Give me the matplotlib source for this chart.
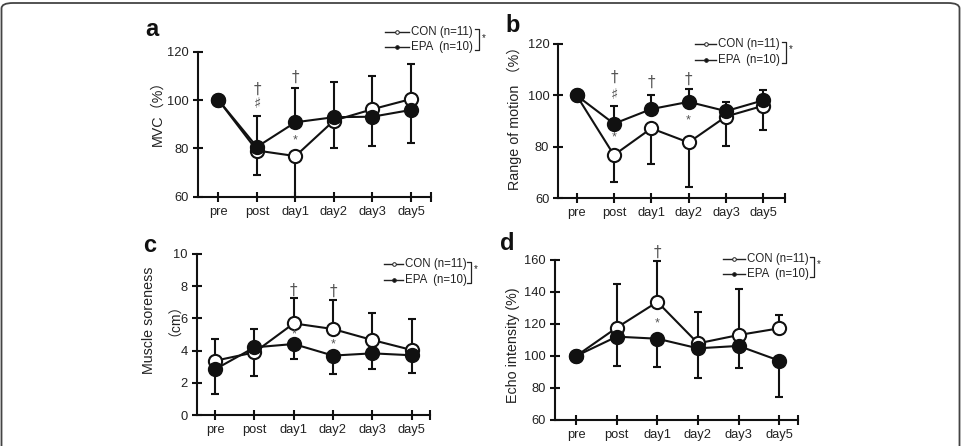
import matplotlib
matplotlib.use('Agg')
import matplotlib.pyplot as plt
import numpy as np
from matplotlib.patches import FancyBboxPatch
from matplotlib.lines import Line2D

W, H = 963, 446
FONT = ['Liberation Sans', 'DejaVu Sans', 'Noto Sans CJK SC']
plt.rcParams['font.family'] = FONT

days = ['pre', 'post', 'day1', 'day2', 'day3', 'day5']

# ---- panel a: MVC (%) ----
mvc_con = [100, 79.1, 76.8, 91.5, 96.2, 100.4]
mvc_con_lo = [0, 10.0, 16.8, 11.5, 0, 0]
mvc_con_hi = [0, 0, 0, 0, 13.7, 14.4]
mvc_epa = [100, 80.6, 90.8, 92.9, 93.1, 95.9]
mvc_epa_lo = [0, 0, 0, 0, 12.0, 13.5]
mvc_epa_hi = [0, 12.8, 14.0, 14.5, 0, 0]
mvc_marks = [(1, 104.6, '†'), (1, 98.6, '♯'), (2, 109.3, '†'), (2, 83.4, '*')]

# ---- panel b: Range of motion (%) ----
rom_con = [100, 76.8, 87.2, 81.7, 91.8, 96.0]
rom_con_lo = [0, 10.6, 13.8, 17.5, 11.4, 9.6]
rom_con_hi = [0, 0, 0, 0, 0, 0]
rom_epa = [100, 89.0, 94.7, 97.5, 93.9, 98.1]
rom_epa_lo = [0, 0, 0, 0, 0, 0]
rom_epa_hi = [0, 7.0, 5.4, 5.1, 3.4, 4.1]
rom_marks = [(1, 107.1, '†'), (1, 100.3, '♯'), (1, 83.7, '*'),
             (2, 105.2, '†'), (3, 106.1, '†'), (3, 90.2, '*')]

# ---- panel c: Muscle soreness (cm) ----
sor_con = [3.37, 3.89, 5.69, 5.34, 4.66, 4.04]
sor_con_lo = [0, 1.47, 0, 0, 0, 0]
sor_con_hi = [1.37, 0, 1.56, 1.80, 1.66, 1.92]
sor_epa = [2.84, 4.20, 4.41, 3.69, 3.83, 3.71]
sor_epa_lo = [1.54, 0, 0.95, 1.16, 0.97, 1.08]
sor_epa_hi = [0, 1.14, 0, 0, 0, 0]
sor_marks = [(2, 7.72, '†'), (2, 5.01, '*'), (3, 7.66, '†'), (3, 4.41, '*')]

# ---- panel d: Echo intensity (%) ----
echo_con = [100, 117.7, 133.8, 107.9, 113.1, 117.3]
echo_con_lo = [0, 0, 0, 0, 0, 0]
echo_con_hi = [0, 27.5, 25.8, 19.4, 28.6, 8.3]
echo_epa = [100, 112.1, 110.8, 104.8, 106.3, 97.1]
echo_epa_lo = [0, 18.6, 17.7, 18.3, 14.0, 22.7]
echo_epa_hi = [0, 0, 0, 0, 0, 0]
echo_marks = [(2, 165.0, '†'), (2, 120.4, '*')]

legend_con = 'CON (n=11)'
legend_epa = 'EPA  (n=10)'

fig = plt.figure(figsize=(W / 100, H / 100), dpi=100)


def px_axes(l, r, t, b):
    return fig.add_axes([l / W, 1 - b / H, (r - l) / W, (b - t) / H])


def fx(x):
    return x / W


def fy(y):
    return 1 - y / H


panels = [
    dict(box=(198, 431, 51.7, 196.7), xlim=(-0.53, 5.52), ylim=(60, 120), yt=[60, 80, 100, 120],
         con=mvc_con, clo=mvc_con_lo, chi=mvc_con_hi, epa=mvc_epa, elo=mvc_epa_lo, ehi=mvc_epa_hi,
         marks=mvc_marks, letter=('a', 152, 30),
         ylabels=[('MVC（%）', 157, 110, 10.3)],
         leg=dict(r1=31.5, r2=47, x0=385, x1=409, tx=411, bx=479, sx=484, sy=38)),
    dict(box=(558.3, 785, 44, 198.3), xlim=(-0.49, 5.58), ylim=(60, 120), yt=[60, 80, 100, 120],
         con=rom_con, clo=rom_con_lo, chi=rom_con_hi, epa=rom_epa, elo=rom_epa_lo, ehi=rom_epa_hi,
         marks=rom_marks, letter=('b', 513, 26),
         ylabels=[('Range of motion （%）', 514, 115, 10.3)],
         leg=dict(r1=44, r2=59.5, x0=695, x1=716, tx=718, bx=786, sx=791, sy=49)),
    dict(box=(196.7, 430, 254, 415), xlim=(-0.47, 5.47), ylim=(0, 10), yt=[0, 2, 4, 6, 8, 10],
         con=sor_con, clo=sor_con_lo, chi=sor_con_hi, epa=sor_epa, elo=sor_epa_lo, ehi=sor_epa_hi,
         marks=sor_marks, letter=('c', 150, 245),
         ylabels=[('Muscle soreness', 149, 320, 10.3), ('（cm）', 168, 313, 10.0)],
         leg=dict(r1=264, r2=279.5, x0=384, x1=403, tx=405, bx=471, sx=476, sy=269)),
    dict(box=(555, 798.3, 260, 420), xlim=(-0.52, 5.47), ylim=(60, 160), yt=[60, 80, 100, 120, 140, 160],
         con=echo_con, clo=echo_con_lo, chi=echo_con_hi, epa=echo_epa, elo=echo_epa_lo, ehi=echo_epa_hi,
         marks=echo_marks, letter=('d', 507, 243),
         ylabels=[('Echo intensity (%)', 513, 345, 10.3)],
         leg=dict(r1=259, r2=274, x0=723, x1=745, tx=747, bx=814, sx=819, sy=264)),
]

LW = 1.5
x = np.arange(len(days))

for p in panels:
    ax = px_axes(*p['box'])
    ax.set_xlim(*p['xlim'])
    ax.set_ylim(*p['ylim'])
    for s in ['top', 'right']:
        ax.spines[s].set_visible(False)
    for s in ['left', 'bottom']:
        ax.spines[s].set_linewidth(LW)
        ax.spines[s].set_color('#111111')
    ax.set_xticks(list(x) + [p['xlim'][1]])
    ax.set_xticklabels(days + [''])
    ax.set_yticks(p['yt'])
    ax.tick_params(direction='inout', length=7, width=LW, color='#111111',
                   labelsize=9.3, labelcolor='#222222', pad=3)
    ax.patch.set_alpha(0)

    # error bars
    ax.errorbar(x, p['con'], yerr=[p['clo'], p['chi']], fmt='none', ecolor='#111111',
                elinewidth=1.5, capsize=3.2, capthick=1.5, zorder=2, clip_on=False)
    ax.errorbar(x, p['epa'], yerr=[p['elo'], p['ehi']], fmt='none', ecolor='#111111',
                elinewidth=1.5, capsize=3.2, capthick=1.5, zorder=2, clip_on=False)
    # lines + markers
    ax.plot(x, p['con'], '-o', color='#111111', lw=1.5, ms=9.5, mfc='white', mec='#111111',
            mew=1.5, zorder=3, clip_on=False)
    ax.plot(x, p['epa'], '-o', color='#111111', lw=1.5, ms=9.5, mfc='#111111', mec='#111111',
            mew=1.5, zorder=4, clip_on=False)

    for xi, yv, sym in p['marks']:
        fs = 9 if sym == '*' else 11
        ax.text(xi, yv, sym, ha='center', va='center', fontsize=fs, color='#555555',
                family=['DejaVu Sans'] if sym != '*' else FONT, clip_on=False)

    # panel letter
    lt, lx, ly = p['letter']
    fig.text(fx(lx), fy(ly), lt, fontsize=17, fontweight='bold', ha='center', va='center',
             color='#111111')
    # ylabel(s)
    for yl, yx, yy, fs in p['ylabels']:
        fig.text(fx(yx), fy(yy), yl, rotation=90, ha='center', va='center', fontsize=fs,
                 color='#222222')

    # custom legend
    L = p['leg']
    for row, fc in [(L['r1'], 'white'), (L['r2'], '#111111')]:
        fig.add_artist(Line2D([fx(L['x0']), fx(L['x1'])], [fy(row), fy(row)], color='#222222',
                              lw=1.0, marker=None))
        fig.add_artist(Line2D([fx((L['x0'] + L['x1']) / 2)], [fy(row)], color='#222222', lw=0,
                              marker='o', ms=2.6, mfc=fc, mec='#222222', mew=0.7))
    fig.text(fx(L['tx']), fy(L['r1']), legend_con, fontsize=8.3, va='center', ha='left', color='#222222')
    fig.text(fx(L['tx']), fy(L['r2']), legend_epa, fontsize=8.3, va='center', ha='left', color='#222222')
    bt, bb = L['r1'] - 2.5, L['r2'] + 3
    fig.add_artist(Line2D([fx(L['bx'] - 4), fx(L['bx']), fx(L['bx']), fx(L['bx'] - 4)],
                          [fy(bt), fy(bt), fy(bb), fy(bb)], color='#222222', lw=0.9))
    fig.text(fx(L['sx']), fy(L['sy']), '*', fontsize=7, ha='center', va='center', color='#222222')

# outer rounded frame
frame = FancyBboxPatch((fx(1.5), fy(460)), fx(959.5) - fx(1.5), fy(3) - fy(460),
                       boxstyle='round,pad=0,rounding_size=0.012', transform=fig.transFigure,
                       fill=False, ec='#444444', lw=1.3, clip_on=False)
fig.add_artist(frame)

fig.savefig('out.png', dpi=100)
